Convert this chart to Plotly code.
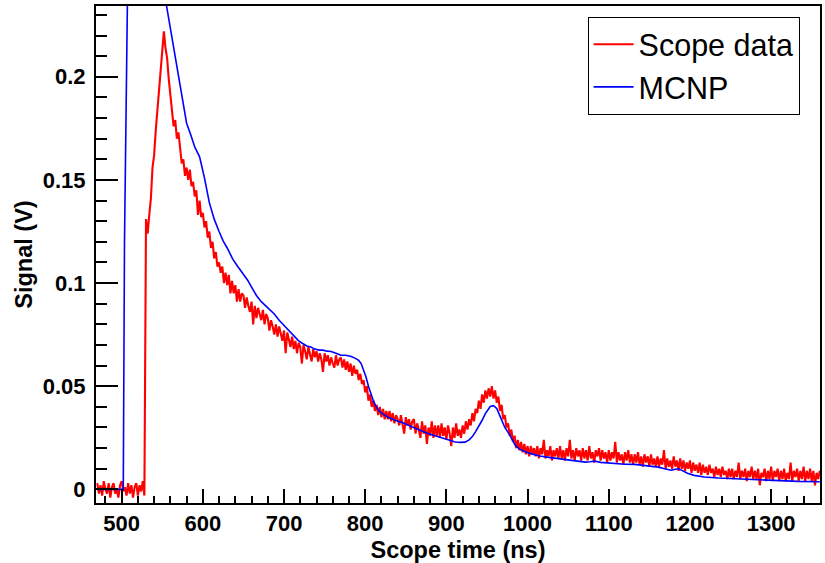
import plotly.graph_objects as go

# Scope data: sampled every 2 ns starting at 470 ns (values in V), one row = 30 ns
scope_t0 = 470
scope_dt = 2
scope_signal = [
    0.003, -0.002, 0.002, -0.003, 0.004, 0.000, -0.002, 0.003, -0.004, 0.001, 0.003, -0.002, 0.000, -0.004, 0.002,
    0.004, -0.001, 0.001, -0.003, 0.003, -0.002, 0.002, -0.004, 0.001, 0.003, -0.003, 0.002, -0.001, 0.004, -0.003,
    0.131, 0.124, 0.133, 0.141, 0.156, 0.162, 0.174, 0.183, 0.196, 0.205, 0.212, 0.222, 0.214, 0.209, 0.199,
    0.192, 0.186, 0.176, 0.179, 0.170, 0.173, 0.166, 0.158, 0.160, 0.152, 0.156, 0.150, 0.155, 0.147, 0.149,
    0.142, 0.145, 0.133, 0.140, 0.132, 0.134, 0.127, 0.130, 0.122, 0.125, 0.117, 0.120, 0.112, 0.115, 0.108,
    0.110, 0.105, 0.108, 0.100, 0.105, 0.099, 0.104, 0.095, 0.101, 0.095, 0.099, 0.091, 0.097, 0.091, 0.095,
    0.094, 0.088, 0.093, 0.089, 0.086, 0.091, 0.080, 0.089, 0.083, 0.088, 0.085, 0.082, 0.087, 0.080, 0.085,
    0.083, 0.077, 0.082, 0.079, 0.075, 0.080, 0.074, 0.079, 0.076, 0.072, 0.077, 0.066, 0.076, 0.073, 0.069,
    0.074, 0.068, 0.072, 0.066, 0.071, 0.069, 0.061, 0.070, 0.067, 0.063, 0.069, 0.066, 0.062, 0.068, 0.064,
    0.067, 0.062, 0.066, 0.063, 0.057, 0.066, 0.062, 0.065, 0.060, 0.064, 0.061, 0.059, 0.065, 0.060, 0.063,
    0.064, 0.059, 0.063, 0.058, 0.062, 0.057, 0.061, 0.055, 0.060, 0.056, 0.058, 0.053, 0.056, 0.051, 0.053,
    0.047, 0.050, 0.043, 0.046, 0.040, 0.043, 0.038, 0.041, 0.036, 0.040, 0.035, 0.039, 0.034, 0.038, 0.034,
    0.038, 0.033, 0.037, 0.032, 0.036, 0.034, 0.031, 0.036, 0.032, 0.027, 0.035, 0.031, 0.034, 0.029, 0.033,
    0.034, 0.027, 0.032, 0.029, 0.025, 0.033, 0.027, 0.031, 0.022, 0.030, 0.026, 0.033, 0.025, 0.031, 0.026,
    0.031, 0.025, 0.032, 0.026, 0.030, 0.024, 0.031, 0.027, 0.021, 0.030, 0.025, 0.032, 0.026, 0.029, 0.025,
    0.031, 0.027, 0.033, 0.029, 0.034, 0.031, 0.037, 0.033, 0.039, 0.037, 0.043, 0.039, 0.046, 0.042, 0.048,
    0.044, 0.049, 0.045, 0.050, 0.044, 0.048, 0.042, 0.045, 0.038, 0.041, 0.034, 0.036, 0.030, 0.032, 0.026,
    0.029, 0.023, 0.026, 0.020, 0.024, 0.019, 0.023, 0.018, 0.022, 0.017, 0.021, 0.016, 0.021, 0.017, 0.020,
    0.016, 0.021, 0.015, 0.020, 0.017, 0.024, 0.015, 0.019, 0.016, 0.021, 0.014, 0.019, 0.016, 0.020, 0.015,
    0.021, 0.015, 0.019, 0.014, 0.020, 0.016, 0.024, 0.015, 0.019, 0.014, 0.020, 0.016, 0.019, 0.014, 0.020,
    0.015, 0.019, 0.014, 0.021, 0.015, 0.018, 0.013, 0.019, 0.016, 0.020, 0.014, 0.019, 0.015, 0.018, 0.013,
    0.019, 0.014, 0.018, 0.015, 0.023, 0.013, 0.018, 0.014, 0.017, 0.012, 0.018, 0.014, 0.019, 0.013, 0.017,
    0.012, 0.017, 0.013, 0.018, 0.012, 0.016, 0.011, 0.017, 0.013, 0.016, 0.011, 0.017, 0.012, 0.015, 0.011,
    0.016, 0.011, 0.015, 0.012, 0.019, 0.010, 0.015, 0.011, 0.014, 0.010, 0.016, 0.011, 0.014, 0.009, 0.015,
    0.010, 0.014, 0.009, 0.013, 0.010, 0.014, 0.008, 0.013, 0.009, 0.012, 0.008, 0.013, 0.007, 0.012, 0.008,
    0.011, 0.007, 0.012, 0.008, 0.010, 0.006, 0.011, 0.007, 0.010, 0.006, 0.011, 0.007, 0.009, 0.005, 0.010,
    0.006, 0.010, 0.005, 0.009, 0.006, 0.013, 0.005, 0.009, 0.006, 0.010, 0.004, 0.009, 0.006, 0.011, 0.005,
    0.009, 0.005, 0.010, 0.002, 0.008, 0.006, 0.010, 0.004, 0.009, 0.005, 0.011, 0.004, 0.009, 0.006, 0.010,
    0.004, 0.009, 0.005, 0.010, 0.004, 0.008, 0.005, 0.013, 0.004, 0.009, 0.006, 0.010, 0.004, 0.009, 0.005,
    0.011, 0.004, 0.009, 0.005, 0.010, 0.004, 0.009, 0.002, 0.008, 0.005, 0.009,
]
scope_time = [scope_t0 + scope_dt * i for i in range(len(scope_signal))]

# MCNP simulation (ns, V)
mcnp_time = [
    470, 502, 503.5, 505, 510, 520, 535, 545, 555, 560, 565, 570, 575, 580, 585,
    590, 596, 602, 608, 614, 620, 625, 630, 637, 643, 649, 655, 660, 666, 672,
    677, 682, 688, 694, 700, 706, 712, 718, 723, 728, 733, 738, 743, 748, 753,
    758, 764, 770, 776, 782, 788, 792, 795, 798, 801, 804, 807, 810, 813, 817,
    821, 828, 837, 848, 858, 868, 878, 888, 899, 905, 911, 917, 923, 928, 932,
    936, 940, 944, 948, 951, 954, 958, 962, 965, 968.5, 972, 977, 981, 985, 990,
    997, 1005, 1015, 1026, 1036, 1046, 1058, 1071, 1077, 1083, 1090, 1100, 1110,
    1120, 1132, 1140, 1150, 1161, 1170, 1177, 1182, 1186, 1190, 1197, 1205, 1218,
    1235, 1251, 1270, 1292, 1312, 1333, 1360,
]
mcnp_signal = [
    0.0, 0.0, 0.12, 0.25, 0.33, 0.33, 0.29, 0.258, 0.2345, 0.223, 0.212, 0.200,
    0.189, 0.1775, 0.172, 0.166, 0.1612, 0.151, 0.139, 0.131, 0.125, 0.1205,
    0.117, 0.1115, 0.108, 0.105, 0.1015, 0.098, 0.094, 0.091, 0.089, 0.087,
    0.085, 0.082, 0.0795, 0.0775, 0.0745, 0.072, 0.0707, 0.0695, 0.069, 0.068,
    0.0675, 0.0675, 0.067, 0.0668, 0.066, 0.065, 0.065, 0.0645, 0.0635, 0.0625,
    0.061, 0.058, 0.0545, 0.050, 0.0464, 0.043, 0.0405, 0.038, 0.0367, 0.035,
    0.0335, 0.032, 0.0302, 0.0285, 0.027, 0.0258, 0.0246, 0.024, 0.023, 0.0228,
    0.0229, 0.024, 0.0256, 0.028, 0.0305, 0.0335, 0.0367, 0.0388, 0.0402,
    0.0406, 0.0392, 0.0365, 0.0335, 0.030, 0.027, 0.024, 0.0213, 0.0195,
    0.0182, 0.0172, 0.0162, 0.0155, 0.015, 0.0144, 0.0138, 0.0132, 0.0134,
    0.0137, 0.0131, 0.0127, 0.0125, 0.0122, 0.0121, 0.0118, 0.0113, 0.0108,
    0.0099, 0.0093, 0.0098, 0.0100, 0.0092, 0.0078, 0.0068, 0.006, 0.0055,
    0.0052, 0.0048, 0.0044, 0.0041, 0.0039, 0.0037,
]

x_tickvals = [500, 600, 700, 800, 900, 1000, 1100, 1200, 1300]
y_tickvals = [0, 0.05, 0.1, 0.15, 0.2]
y_ticktext = ["0", "0.05", "0.1", "0.15", "0.2"]

FONT = "Liberation Sans, Arial, Helvetica, sans-serif"

fig = go.Figure()
fig.add_trace(go.Scatter(
    x=scope_time, y=scope_signal, mode="lines", name="Scope data",
    line=dict(color="#ff0000", width=2.1),
))
fig.add_trace(go.Scatter(
    x=mcnp_time, y=mcnp_signal, mode="lines", name="MCNP",
    line=dict(color="#0000ff", width=1.6),
))

fig.update_layout(
    width=825, height=563,
    margin=dict(l=96, r=3, t=6, b=60),
    paper_bgcolor="white", plot_bgcolor="white",
    showlegend=True,
    legend=dict(
        x=0.679, y=0.978, xanchor="left", yanchor="top",
        bgcolor="white", bordercolor="black", borderwidth=1,
        font=dict(family=FONT, size=30.5, color="black"),
        itemwidth=40, tracegroupgap=0,
    ),
)
fig.update_xaxes(
    range=[468.4, 1360.2],
    showgrid=False, zeroline=False,
    showline=True, linecolor="black", linewidth=2, mirror=True,
    ticks="inside", ticklen=14, tickwidth=2, tickcolor="black",
    tickvals=x_tickvals,
    tickfont=dict(family=FONT, size=22, color="black", weight="bold"),
    minor=dict(ticks="inside", ticklen=7, tickwidth=1.5, tickcolor="black", dtick=20, tick0=500),
    title=dict(text="Scope time (ns)", font=dict(family=FONT, size=23.5, color="black", weight="bold"), standoff=7),
)
fig.update_yaxes(
    range=[-0.0066, 0.2343],
    showgrid=False, zeroline=False,
    showline=True, linecolor="black", linewidth=2, mirror=True,
    ticks="inside", ticklen=22, tickwidth=2, tickcolor="black",
    tickvals=y_tickvals, ticktext=y_ticktext,
    ticklabelstandoff=4,
    tickfont=dict(family=FONT, size=22, color="black", weight="bold"),
    minor=dict(ticks="inside", ticklen=11, tickwidth=1.5, tickcolor="black", dtick=0.01, tick0=0),
    title=dict(text="Signal (V)", font=dict(family=FONT, size=23.5, color="black", weight="bold"), standoff=4),
)

fig.write_html("out.html")
